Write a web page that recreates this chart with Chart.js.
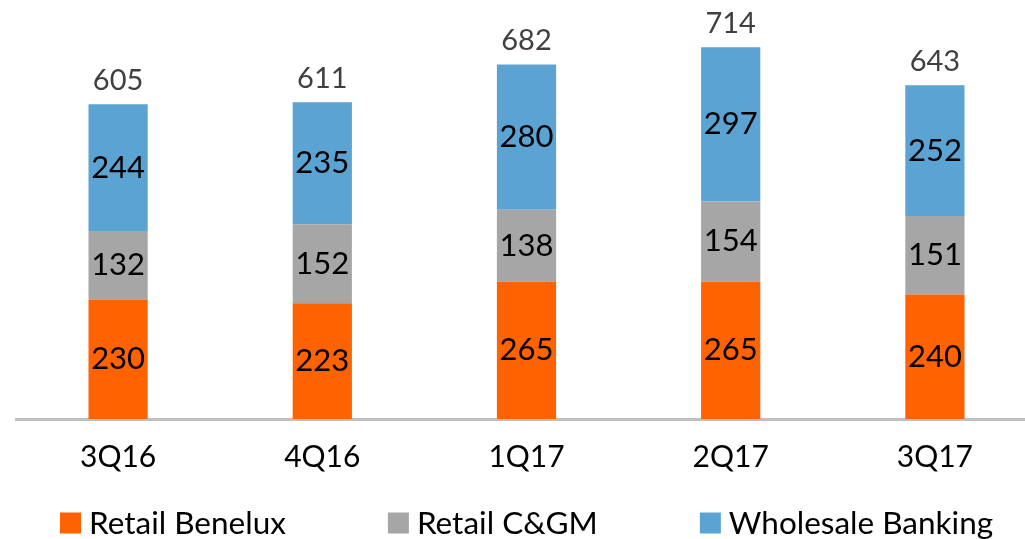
<!DOCTYPE html>
<html><head><meta charset="utf-8">
<script src="https://cdn.jsdelivr.net/npm/chart.js@4"></script>
<style>html,body{margin:0;padding:0;overflow:hidden;background:#fff}#wrap{width:1037px;height:539px;position:relative}</style>
</head><body><div id="wrap"><canvas id="c"></canvas></div>
<script>
const categories = ['3Q16','4Q16','1Q17','2Q17','3Q17'];
const retailBenelux = [230,223,265,265,240];
const retailCGM = [132,152,138,154,151];
const wholesaleBanking = [244,235,280,297,252];
const totals = [605,611,682,714,643];
const seriesNames = ['Retail Benelux','Retail C&GM','Wholesale Banking'];
const seriesColors = ['#FF6200','#A6A6A6','#5BA3D3'];
const FONT = 'Lato, "Noto Sans", sans-serif';

const labelPlugin = {
  id: 'labels',
  afterDatasetsDraw(chart) {
    const ctx = chart.ctx;
    ctx.save();
    ctx.textAlign = 'center';
    ctx.textBaseline = 'middle';
    chart.data.datasets.forEach((ds, di) => {
      const meta = chart.getDatasetMeta(di);
      meta.data.forEach((el, i) => {
        ctx.fillStyle = '#000';
        ctx.font = '31px ' + FONT;
        ctx.fillText(String(ds.data[i]), el.x, (el.y + el.base) / 2);
      });
    });
    const top = chart.getDatasetMeta(chart.data.datasets.length - 1);
    top.data.forEach((el, i) => {
      ctx.fillStyle = '#404040';
      ctx.font = '29px ' + FONT;
      ctx.fillText(String(totals[i]), el.x, el.y - 24);
    });
    ctx.restore();
  }
};

const legendPlugin = {
  id: 'customLegend',
  afterDraw(chart) {
    const ctx = chart.ctx;
    ctx.save();
    ctx.font = '31.5px ' + FONT;
    ctx.textBaseline = 'middle';
    ctx.textAlign = 'left';
    const box = 21, gapText = 8, gapItem = 102;
    const cy = chart.height - 16;
    let x = 60;
    chart.data.datasets.forEach(ds => {
      ctx.fillStyle = ds.backgroundColor;
      ctx.fillRect(x, cy - box / 2, box, box);
      ctx.fillStyle = '#000';
      ctx.fillText(ds.label, x + box + gapText, cy + 1);
      x += box + gapText + ctx.measureText(ds.label).width + gapItem;
    });
    ctx.restore();
  }
};

new Chart(document.getElementById('c'), {
  type: 'bar',
  data: {
    labels: categories,
    datasets: [
      {label: seriesNames[0], data: retailBenelux, backgroundColor: seriesColors[0]},
      {label: seriesNames[1], data: retailCGM, backgroundColor: seriesColors[1]},
      {label: seriesNames[2], data: wholesaleBanking, backgroundColor: seriesColors[2]}
    ]
  },
  options: {
    responsive: true,
    maintainAspectRatio: false,
    animation: false,
    layout: {padding: {left: 16, right: 0, top: 0, bottom: 44}},
    datasets: {bar: {barPercentage: 0.29, categoryPercentage: 1}},
    plugins: {
      legend: {display: false},
      tooltip: {enabled: false}
    },
    scales: {
      x: {
        stacked: true,
        grid: {display: false, drawTicks: false},
        border: {color: '#BFBFBF', width: 3},
        ticks: {color: '#000', font: {family: FONT, size: 30}, padding: 20}
      },
      y: {stacked: true, display: false, min: 0, max: 807}
    }
  },
  plugins: [labelPlugin, legendPlugin]
});
</script></body></html>
